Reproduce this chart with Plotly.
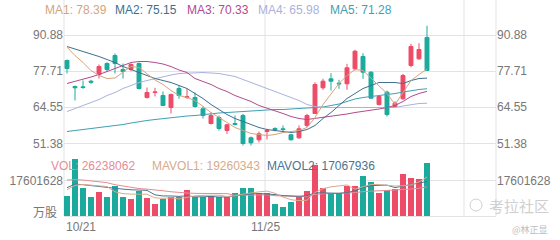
import plotly.graph_objects as go

# ---------------- data ----------------
open_ = [81.58, 72.09, 71.99, 74.03, 76.47, 80.48, 83.40, 78.30, 78.30, 80.48,
         68.08, 69.91, 68.81, 64.44, 71.37, 68.08, 68.08, 63.96, 58.60, 60.79,
         56.05, 58.60, 61.52, 53.39, 52.66, 55.68, 56.78, 56.67, 54.48, 53.39,
         57.87, 62.25, 71.62, 74.90, 73.30, 73.08, 78.55, 83.04, 77.31, 65.53,
         70.02, 64.80, 67.61, 79.75, 82.20, 89.97]
high = [81.94, 72.46, 74.28, 74.54, 80.12, 80.96, 84.13, 80.48, 80.59, 80.85,
        71.73, 71.62, 70.27, 69.54, 72.46, 71.26, 69.91, 64.80, 62.61, 61.52,
        58.49, 61.52, 62.14, 53.86, 55.68, 56.67, 57.25, 57.87, 54.85, 57.87,
        62.14, 73.66, 74.90, 76.95, 74.54, 80.37, 85.48, 84.24, 77.68, 68.81,
        70.64, 66.73, 76.73, 87.67, 87.89, 94.23]
low = [76.84, 66.99, 71.26, 73.08, 75.01, 77.31, 76.84, 75.01, 77.68, 71.00,
       67.72, 68.45, 65.00, 62.25, 67.61, 67.61, 64.44, 60.43, 58.24, 56.05,
       54.85, 57.87, 50.58, 50.58, 51.67, 52.77, 55.79, 55.79, 52.40, 53.02,
       57.25, 62.14, 70.89, 70.64, 71.26, 70.89, 77.93, 74.90, 67.61, 65.17,
       61.15, 64.33, 67.25, 79.13, 81.83, 77.93]
close = [78.66, 71.62, 71.73, 73.66, 79.39, 78.30, 80.48, 77.57, 80.12, 71.37,
         69.91, 70.09, 65.17, 69.18, 68.81, 68.34, 64.80, 61.52, 61.52, 56.78,
         58.13, 58.24, 51.31, 51.56, 54.85, 56.05, 56.30, 56.41, 52.66, 56.67,
         61.52, 72.83, 74.03, 74.03, 73.08, 78.91, 84.97, 77.31, 67.83, 68.45,
         61.88, 66.01, 76.11, 86.68, 85.59, 77.93]

ma1 = [86.43, 83.40, 80.85, 77.93, 76.11, 75.01, 75.20, 77.20, 79.40, 79.02,
       76.84, 74.47, 72.83, 70.64, 68.81, 68.08, 66.99, 64.80, 62.61, 60.79,
       58.97, 57.14, 56.05, 54.95, 54.59, 54.23, 54.59, 55.32, 55.68, 56.05,
       57.14, 60.79, 65.53, 69.54, 73.19, 76.11, 78.30, 77.93, 75.01, 72.10,
       69.54, 65.53, 69.91, 74.28, 76.47, 78.39]
ma2 = [86.68, 85.77, 84.86, 84.13, 83.04, 81.94, 80.85, 79.39, 78.30, 77.20,
       76.11, 75.01, 74.28, 73.55, 72.46, 71.37, 69.54, 67.72, 65.53, 63.71,
       61.88, 60.43, 59.33, 58.24, 57.14, 56.41, 56.05, 55.68, 55.32, 55.68,
       56.41, 57.87, 60.43, 62.61, 65.17, 67.72, 69.54, 71.37, 72.46, 73.55,
       73.55, 73.55, 73.19, 74.28, 75.01, 75.15]
ma3 = [73.19, 73.92, 74.83, 75.56, 76.47, 77.57, 78.66, 79.94, 80.85, 81.21,
       81.21, 80.85, 80.30, 79.39, 78.11, 77.20, 75.01, 73.92, 72.83, 71.37,
       70.27, 68.81, 67.72, 66.63, 65.17, 64.25, 63.34, 62.25, 61.15, 60.43,
       60.06, 60.43, 60.79, 61.15, 61.70, 62.07, 62.61, 62.98, 63.34, 63.89,
       64.44, 65.17, 66.63, 68.45, 69.54, 70.33]
ma4 = [62.98, 64.07, 65.17, 66.26, 67.35, 68.81, 69.91, 71.37, 72.46, 73.55,
       74.28, 75.01, 75.74, 76.29, 76.84, 77.02, 77.20, 77.20, 77.02, 76.84,
       76.29, 75.74, 74.65, 73.55, 72.46, 71.37, 70.27, 69.18, 68.08, 66.99,
       65.53, 64.80, 64.44, 64.44, 64.44, 64.44, 64.44, 64.44, 64.44, 64.44,
       64.44, 64.44, 64.98, 65.53, 65.90, 65.98]
ma5 = [55.68, 56.05, 56.23, 56.60, 56.96, 57.51, 57.87, 58.24, 58.78, 59.33,
       59.70, 60.06, 60.43, 60.79, 61.15, 61.34, 61.52, 61.88, 62.25, 62.43,
       62.61, 62.80, 62.98, 63.34, 63.34, 63.52, 63.71, 63.71, 63.89, 64.07,
       64.25, 64.44, 64.62, 65.17, 65.71, 66.63, 67.54, 68.08, 68.45, 68.81,
       69.00, 69.54, 70.09, 70.64, 71.00, 71.28]

volume = [9900000, 28070000, 14010000, 9550000, 11730000, 9550000, 15000000, 9550000, 8270000, 12380000,
          8760000, 5940000, 8420000, 9550000, 9550000, 12870000, 9550000, 9550000, 10050000, 9550000,
          9550000, 11240000, 13710000, 13710000, 11530000, 11530000, 5790000, 4310000, 7080000, 9410000,
          12380000, 25100000, 13710000, 11530000, 11390000, 15100000, 14850000, 19950000, 16680000, 11240000,
          13020000, 13220000, 20640000, 18960000, 18320000, 26238062]
mavol1 = [13000000, 15200000, 15600000, 15200000, 14650000, 14580000, 11970000, 11080000, 10820000, 10950000,
          10790000, 8980000, 8750000, 9010000, 8440000, 9270000, 9990000, 10210000, 10310000, 10310000,
          9650000, 9990000, 10820000, 11550000, 11950000, 12340000, 11250000, 9370000, 8050000, 7620000,
          7790000, 11660000, 13540000, 14430000, 14820000, 15370000, 13320000, 14560000, 15590000, 15560000,
          15150000, 14820000, 14960000, 15420000, 16830000, 19260343]
mavol2 = [14000000, 15800000, 15500000, 15000000, 14500000, 14000000, 13800000, 13300000, 13000000, 12800000,
          12690000, 10470000, 9920000, 9920000, 9700000, 10030000, 9480000, 9480000, 9660000, 9380000,
          9460000, 9990000, 10520000, 10930000, 11130000, 11000000, 10620000, 10100000, 9800000, 9790000,
          10070000, 11460000, 11460000, 11240000, 11220000, 11580000, 12490000, 14050000, 15010000, 15190000,
          15260000, 14070000, 14760000, 15510000, 16200000, 17067936]
mavol3 = [17800000, 18000000, 17800000, 17400000, 17000000, 16500000, 15500000, 14800000, 14000000, 13600000,
          13300000, 13000000, 12500000, 12000000, 11600000, 11400000, 11200000, 11100000, 11100000, 11090000,
          11070000, 10230000, 10220000, 10420000, 10410000, 10510000, 10050000, 9790000, 9730000, 9580000,
          9760000, 10720000, 10990000, 11090000, 11180000, 11290000, 11550000, 12070000, 12410000, 12490000,
          12660000, 12760000, 13110000, 13370000, 13710000, 14450000]

price_ticks = [51.38, 64.55, 77.71, 90.88]
vol_ticks = [17601628]
date_pos = [-0.25, 24.75]
date_labels = ["10/21", "11/25"]
vgrid_pos = [-0.25, 24.75, 49.625]

# ---------------- styles ----------------
RED = "#ee4b68"
TEAL = "#1baa9c"
GRID = "#e3e3e3"
TXT = "#777777"
FONT = "Arial, Liberation Sans, sans-serif"
MA_COLORS = ["#d4a47c", "#3f6f8c", "#b24a8d", "#a9b2dd", "#3f9fb5"]

W, H = 560, 240
X0, X1 = 64, 496          # plot area (px)
MAIN_TOP, MAIN_BOT = 20, 150
VOL_TOP, VOL_BOT = 150, 216
PX_PER_UNIT = 0.3647       # price per px
VOL_PER_PX = 1 / 2.02e-6   # shares per px

idx = list(range(len(close)))
xr = [-0.375, -0.375 + (X1 - X0) / 8]

p_top = price_ticks[-1] + (35 - MAIN_TOP) * PX_PER_UNIT
p_bot = price_ticks[-1] - (MAIN_BOT - 35) * PX_PER_UNIT
v_top = (VOL_BOT - VOL_TOP) * VOL_PER_PX

fig = go.Figure()
fig.add_trace(go.Candlestick(
    x=idx, open=open_, high=high, low=low, close=close,
    increasing=dict(line=dict(color=RED, width=1), fillcolor=RED),
    decreasing=dict(line=dict(color=TEAL, width=1), fillcolor=TEAL),
    whiskerwidth=0, hoverinfo="skip", xaxis="x", yaxis="y", showlegend=False))
for ma, c in zip([ma5, ma4, ma3, ma2, ma1], MA_COLORS[::-1]):
    fig.add_trace(go.Scatter(x=idx, y=ma, mode="lines", line=dict(color=c, width=1),
                             hoverinfo="skip", xaxis="x", yaxis="y", showlegend=False))

bar_colors = [RED if c >= o else TEAL for o, c in zip(open_, close)]
fig.add_trace(go.Bar(x=idx, y=volume, marker=dict(color=bar_colors, line=dict(width=0)),
                     width=0.75, xaxis="x", yaxis="y2", hoverinfo="skip", showlegend=False))
for mv, c in zip([mavol3, mavol2, mavol1], ["#e58b97", "#4a7490", "#d7ab8c"]):
    fig.add_trace(go.Scatter(x=idx, y=mv, mode="lines", line=dict(color=c, width=1),
                             hoverinfo="skip", xaxis="x", yaxis="y2", showlegend=False))
# carriers for the right-hand axes
fig.add_trace(go.Scatter(x=[idx[0]], y=[price_ticks[0]], mode="markers", marker=dict(opacity=0),
                         xaxis="x", yaxis="y3", hoverinfo="skip", showlegend=False))
fig.add_trace(go.Scatter(x=[idx[0]], y=[vol_ticks[0]], mode="markers", marker=dict(opacity=0),
                         xaxis="x", yaxis="y4", hoverinfo="skip", showlegend=False))

main_dom = [1 - MAIN_BOT / H, 1 - MAIN_TOP / H]
vol_dom = [1 - VOL_BOT / H, 1 - VOL_TOP / H]
tickfont = dict(family=FONT, size=12, color=TXT)

ax_common = dict(showline=False, zeroline=False, ticks="", tickfont=tickfont, fixedrange=True)
fig.update_layout(
    width=W, height=H, margin=dict(l=0, r=0, t=0, b=0),
    paper_bgcolor="white", plot_bgcolor="white",
    xaxis=dict(domain=[X0 / W, X1 / W], range=xr, anchor="y2", showgrid=False,
               showticklabels=False, zeroline=False, showline=True, linecolor=GRID,
               linewidth=1, rangeslider=dict(visible=False), fixedrange=True),
    yaxis=dict(domain=main_dom, range=[p_bot, p_top], tickvals=price_ticks,
               ticktext=[f"{v:.2f}" for v in price_ticks], showgrid=True, gridcolor=GRID,
               gridwidth=1, anchor="x", **ax_common),
    yaxis2=dict(domain=vol_dom, range=[0, v_top], tickvals=vol_ticks,
                ticktext=[str(v) for v in vol_ticks], showgrid=True, gridcolor=GRID,
                gridwidth=1, anchor="x", **ax_common),
    yaxis3=dict(overlaying="y", side="right", range=[p_bot, p_top], tickvals=price_ticks,
                ticktext=[f"{v:.2f}" for v in price_ticks], showgrid=False, anchor="x", **ax_common),
    yaxis4=dict(overlaying="y2", side="right", range=[0, v_top], tickvals=vol_ticks,
                ticktext=[str(v) for v in vol_ticks], showgrid=False, anchor="x", **ax_common),
    bargap=0, showlegend=False,
)

# vertical frame / grid lines spanning both panels
shapes = []
for xv in vgrid_pos[1:]:
    shapes.append(dict(type="line", xref="x", yref="paper", x0=xv, x1=xv, y0=1 - VOL_BOT / H, y1=1,
                       line=dict(color=GRID, width=1), layer="below"))
for px in [X0, X1]:
    shapes.append(dict(type="line", xref="paper", yref="paper", x0=px / W, x1=px / W,
                       y0=1 - VOL_BOT / H, y1=1, line=dict(color=GRID, width=1), layer="below"))
shapes.append(dict(type="circle", xref="paper", yref="paper", x0=470 / W, x1=482 / W,
                   y0=1 - 211 / H, y1=1 - 199 / H, line=dict(color="#d0d0d0", width=1)))
fig.update_layout(shapes=shapes)

ann = []
ma_vals = [ma1, ma2, ma3, ma4, ma5]
ma_x = [43, 113, 185, 256, 328]
for i, (m, c, xp) in enumerate(zip(ma_vals, MA_COLORS, ma_x)):
    ann.append(dict(text=f"MA{i+1}: {m[-1]:.2f}", x=xp / W, y=1 - 10 / H, xref="paper", yref="paper",
                    xanchor="left", yanchor="middle", showarrow=False,
                    font=dict(family=FONT, size=12, color=c)))
vol_leg = [(f"VOL: {volume[-1]}", "#e88c95", 49),
           (f"MAVOL1: {mavol1[-1]}", "#d7ab8c", 150),
           (f"MAVOL2: {mavol2[-1]}", "#4a7490", 265)]
for t, c, xp in vol_leg:
    ann.append(dict(text=t, x=xp / W, y=1 - 166 / H, xref="paper", yref="paper",
                    xanchor="left", yanchor="middle", showarrow=False,
                    font=dict(family=FONT, size=12, color=c)))
for pos, lab, anc in zip(date_pos, date_labels, ["left", "center"]):
    ann.append(dict(text=lab, x=pos if anc == "center" else xr[0], y=1 - 227 / H, xref="x", yref="paper",
                    xanchor=anc, yanchor="middle", showarrow=False, font=tickfont))
ann.append(dict(text="万股", x=59 / W, y=1 - 211 / H, xref="paper", yref="paper", xanchor="right",
                yanchor="middle", showarrow=False,
                font=dict(family="Noto Sans CJK SC, sans-serif", size=12, color=TXT)))
ann.append(dict(text="考拉社区", x=487 / W, y=1 - 205 / H, xref="paper", yref="paper", xanchor="left",
                yanchor="middle", showarrow=False,
                font=dict(family="Noto Sans CJK SC, sans-serif", size=15, color="#cfcfcf")))
ann.append(dict(text="@林正显", x=550 / W, y=1 - 229 / H, xref="paper", yref="paper", xanchor="right",
                yanchor="middle", showarrow=False,
                font=dict(family="Noto Sans CJK SC, sans-serif", size=9, color="#bdbdbd")))
fig.update_layout(annotations=ann)

fig.write_html("out.html")
